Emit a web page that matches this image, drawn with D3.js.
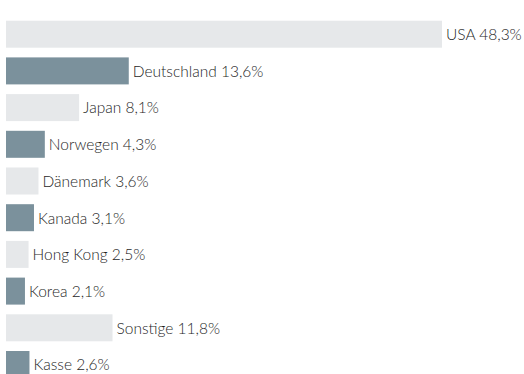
<!DOCTYPE html>
<html>
<head>
<meta charset="utf-8">
<script src="https://cdn.jsdelivr.net/npm/d3@7"></script>
<style>
  html, body { margin: 0; padding: 0; background: #ffffff; }
  svg { display: block; }
  text { font-family: Lato, "Open Sans", sans-serif; font-weight: 300; fill: #1f1f1f; }
</style>
</head>
<body>
<svg id="chart" width="524" height="374"></svg>
<script>
// Anteile nach Ländern (in %)
const countries = ["USA", "Deutschland", "Japan", "Norwegen", "Dänemark", "Kanada", "Hong Kong", "Korea", "Sonstige", "Kasse"];
const shares = [48.3, 13.6, 8.1, 4.3, 3.6, 3.1, 2.5, 2.1, 11.8, 2.6];
const valueLabels = ["48,3%", "13,6%", "8,1%", "4,3%", "3,6%", "3,1%", "2,5%", "2,1%", "11,8%", "2,6%"];

const colors = ["#e6e8ea", "#7b919c"];

const svg = d3.select("#chart");
const marginLeft = 6;
const rowStep = 36.7;
const barH = 27;
const marginTop = 20.7;

const x = d3.scaleLinear().domain([0, 48.3]).range([0, 436]);
const y = d3.scaleBand()
  .domain(countries)
  .range([marginTop, marginTop + rowStep * (countries.length - 1) + barH])
  .paddingInner(1 - barH / rowStep)
  .paddingOuter(0);

const rows = svg.selectAll("g.row")
  .data(countries)
  .join("g")
  .attr("class", "row");

rows.append("rect")
  .attr("x", marginLeft)
  .attr("y", d => y(d))
  .attr("width", (d, i) => x(shares[i]))
  .attr("height", y.bandwidth())
  .attr("fill", (d, i) => colors[i % 2]);

rows.append("text")
  .attr("x", (d, i) => marginLeft + x(shares[i]) + 4)
  .attr("y", d => y(d) + y.bandwidth() / 2)
  .attr("dy", "0.38em")
  .attr("font-size", 15.5)
  .text((d, i) => d + " " + valueLabels[i]);
</script>
</body>
</html>
